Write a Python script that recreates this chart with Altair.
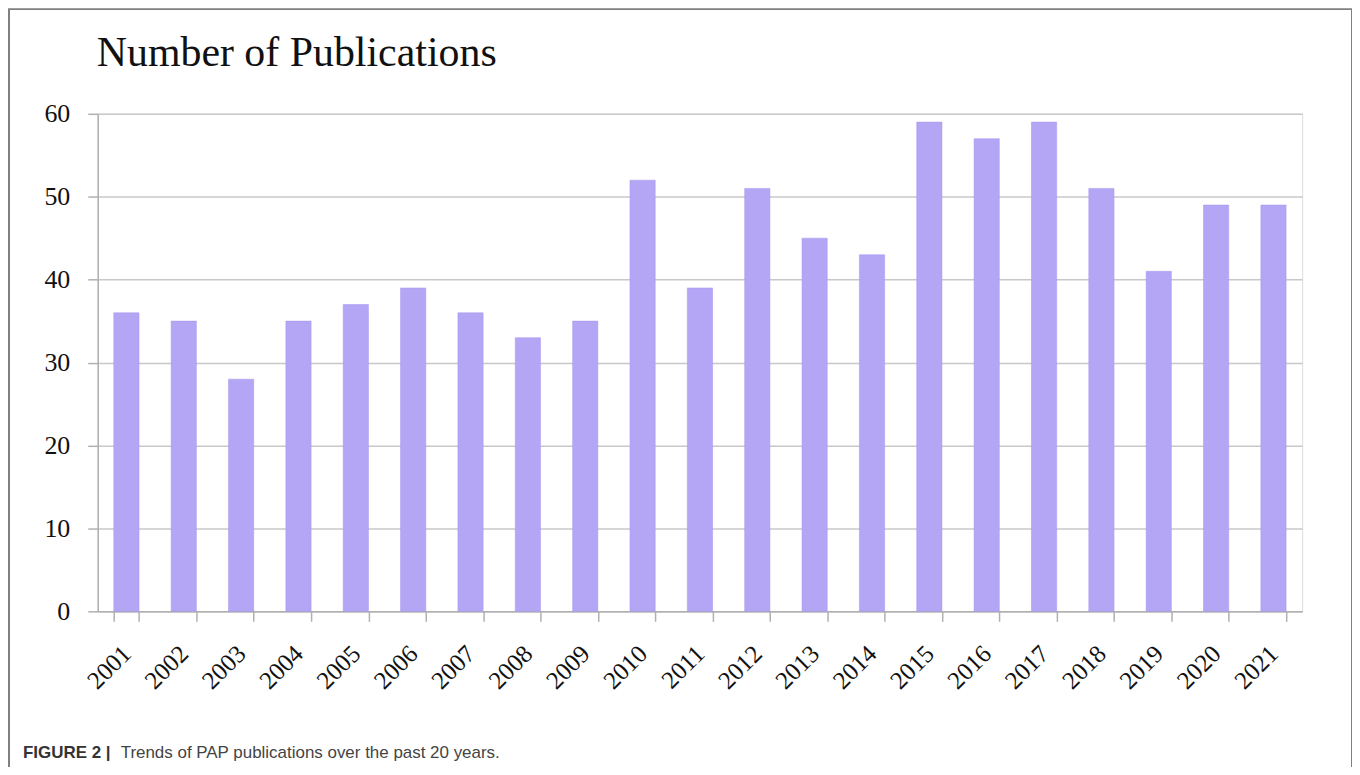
import altair as alt
import pandas as pd

years = [str(y) for y in range(2001, 2022)]
counts = [36, 35, 28, 35, 37, 39, 36, 33, 35, 52, 39, 51, 45, 43, 59, 57, 59, 51, 41, 49, 49]
y_ticks = [0, 10, 20, 30, 40, 50, 60]
title_text = "Number of Publications"
caption_bold = "FIGURE 2 |"
caption_text = "Trends of PAP publications over the past 20 years."

df = pd.DataFrame({"year": years, "count": counts})

W, H = 1208, 499

bars = alt.Chart(df).mark_bar(color="#b4a6f5", stroke="#a493ee", strokeWidth=0.5).encode(
    x=alt.X("year:N", title=None, sort=years,
            scale=alt.Scale(paddingInner=0.56, paddingOuter=0.28),
            axis=alt.Axis(labelAngle=-45, labelAlign="right", labelBaseline="middle",
                          labelPadding=28, labelFont="Liberation Serif", labelFontSize=25,
                          labelColor="#111", tickBand="extent", tickSize=10,
                          tickColor="#b0b0b0", tickWidth=1.5, domainColor="#b0b0b0",
                          domainWidth=1.5, grid=False)),
    y=alt.Y("count:Q", title=None, scale=alt.Scale(domain=[0, 60], nice=False),
            axis=alt.Axis(values=y_ticks, labelFont="Liberation Serif", labelFontSize=26,
                          labelColor="#111", labelPadding=18, tickSize=10,
                          tickColor="#b0b0b0", tickWidth=1.5, domainColor="#b0b0b0",
                          domainWidth=1.5, gridColor="#c8c8c8", gridWidth=1.5)),
)

frame = alt.Chart(pd.DataFrame({"k": [0]})).mark_rect(
    fill=None, stroke="#808080", strokeWidth=2
).encode(x=alt.value(-89), x2=alt.value(W + 50), y=alt.value(-105), y2=alt.value(H + 200))

title = alt.Chart(pd.DataFrame({"t": [title_text]})).mark_text(
    font="Liberation Serif", fontSize=42, align="left", baseline="alphabetic", color="#111"
).encode(text="t:N", x=alt.value(-1), y=alt.value(-48))

cap1 = alt.Chart(pd.DataFrame({"t": [caption_bold]})).mark_text(
    font="Liberation Sans", fontSize=17, fontWeight="bold", align="left",
    baseline="alphabetic", color="#333"
).encode(text="t:N", x=alt.value(-75), y=alt.value(646))

cap2 = alt.Chart(pd.DataFrame({"t": [caption_text]})).mark_text(
    font="Liberation Sans", fontSize=17, align="left",
    baseline="alphabetic", color="#444"
).encode(text="t:N", x=alt.value(23), y=alt.value(646))

chart = alt.layer(bars, frame, title, cap1, cap2).properties(
    width=W, height=H,
    autosize=alt.AutoSizeParams(type="none"),
    padding={"left": 90, "top": 105, "right": 50, "bottom": 155},
).configure_view(stroke=None).configure(background="white")

chart.save("out.html", embed_options={"renderer": "svg", "actions": False})
